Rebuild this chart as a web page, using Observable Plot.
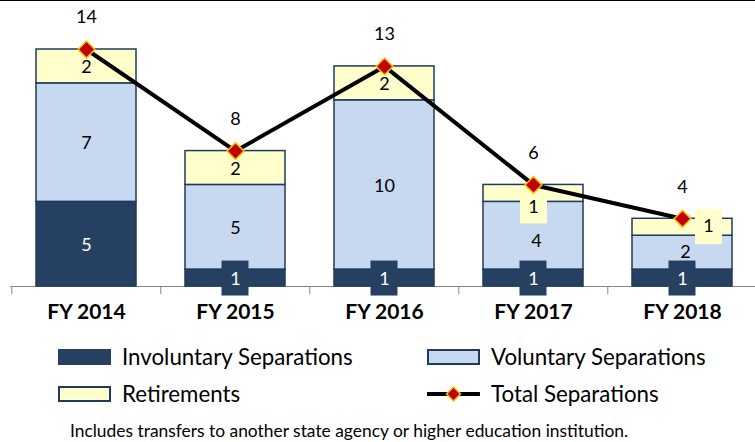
<!DOCTYPE html>
<html>
<head>
<meta charset="utf-8">
<script src="https://cdn.jsdelivr.net/npm/d3@7"></script>
<script src="https://cdn.jsdelivr.net/npm/@observablehq/plot@0.6"></script>
<style>
  html, body { margin: 0; padding: 0; background: #fff; }
  #wrap { position: relative; width: 755px; height: 442px; overflow: hidden; font-family: Lato, "Open Sans", sans-serif; color: #000; }
  #topline { position: absolute; left: 0; top: 0; width: 755px; height: 1px; background: #000; }
  #chart { position: absolute; left: 0; top: 0; }
  #legend { position: absolute; left: 58px; top: 338px; display: grid; grid-template-columns: 369px 300px; grid-auto-rows: 37px; font-size: 22.3px; }
  .item { display: flex; align-items: center; white-space: nowrap; }
  .sw { display: inline-block; width: 53px; height: 16px; box-sizing: border-box; margin-right: 11px; flex: none; }
  .sw svg { display: block; }
  #caption { position: absolute; left: 70px; top: 420px; font-size: 17.4px; line-height: 22px; white-space: nowrap; }
</style>
</head>
<body>
<div id="wrap">
  <div id="chart"></div>
  <div id="topline"></div>
  <div id="legend"></div>
  <div id="caption"></div>
</div>
<script>
// ---- data ----
const categories = ["FY 2014", "FY 2015", "FY 2016", "FY 2017", "FY 2018"];
const involuntary = [5, 1, 1, 1, 1];
const voluntary = [7, 5, 10, 4, 2];
const retirements = [2, 2, 2, 1, 1];
const totals = [14, 8, 13, 6, 4];
const seriesNames = ["Involuntary Separations", "Voluntary Separations", "Retirements"];
const totalName = "Total Separations";
const captionText = "Includes transfers to another state agency or higher education institution.";

// ---- styles ----
const dark = "#264061";
const colors = ["#264061", "#C6D9F1", "#FFFFCC"];
const edge = "#1F3A5C";
const axisGray = "#868686";
const font = "Lato, 'Open Sans', sans-serif";

// ---- derived rows ----
const seriesValues = [involuntary, voluntary, retirements];
const rows = [];
categories.forEach((c, i) => {
  let base = 0;
  seriesNames.forEach((s, k) => {
    const v = seriesValues[k][i];
    rows.push({fy: c, series: s, value: v, mid: base + v / 2});
    base += v;
  });
});
const totalRows = categories.map((c, i) => ({fy: c, total: totals[i]}));

const H = 338;
const baseY = 286;
const xRange = [10, 757];
const step = (xRange[1] - xRange[0]) / categories.length;

const isInv = d => d.series === seriesNames[0];
const key = d => d.series + "|" + d.fy;
const nudges = {
  [seriesNames[2] + "|FY 2017"]: {dx: 0, dy: 14, box: true, h: 31},
  [seriesNames[2] + "|FY 2018"]: {dx: 26, dy: -1, box: true, h: 35},
  [seriesNames[1] + "|FY 2017"]: {dx: 3, dy: 6},
  [seriesNames[1] + "|FY 2018"]: {dx: 3, dy: 0}
};

const marks = [
  Plot.ruleY([0], {stroke: axisGray, strokeWidth: 1}),
  Plot.ruleX(categories, {x: d => d, y1: 0, y2: 0, dx: -step / 2, insetBottom: -8, stroke: axisGray, strokeWidth: 1}),
  Plot.barY(rows, {x: "fy", y: "value", fill: "series", stroke: edge, strokeWidth: 1.5}),
  // dark label boxes for involuntary values
  Plot.tickY(rows.filter(isInv), {x: "fy", y: "mid", stroke: dark, strokeWidth: 35, insetLeft: 36.5, insetRight: 36.5})
];
// yellow label boxes
for (const [k, n] of Object.entries(nudges)) {
  if (!n.box) continue;
  marks.push(Plot.tickY(rows.filter(d => key(d) === k), {x: "fy", y: "mid", dx: n.dx + 0.5, dy: n.dy + 0.5, stroke: colors[2], strokeWidth: n.h, insetLeft: 36.5, insetRight: 36.5}));
}
marks.push(
  Plot.line(totalRows, {x: "fy", y: "total", stroke: "#000", strokeWidth: 4, strokeLinejoin: "round"}),
  Plot.dot(totalRows, {x: "fy", y: "total", symbol: "diamond2", r: 7.6, fill: "#C00000", stroke: "#FFC000", strokeWidth: 1.5}),
  Plot.text(totalRows, {x: "fy", y: "total", text: d => String(d.total), dy: -32, fontSize: 18, fill: "#000", fontFamily: font}),
  // default segment labels
  Plot.text(rows.filter(d => !nudges[key(d)]), {x: "fy", y: "mid", text: d => String(d.value), dy: 1, fontSize: 18, fontFamily: font, fill: d => isInv(d) ? "#fff" : "#000"})
);
for (const [k, n] of Object.entries(nudges)) {
  marks.push(Plot.text(rows.filter(d => key(d) === k), {x: "fy", y: "mid", text: d => String(d.value), dx: n.dx, dy: n.dy, fontSize: 18, fontFamily: font, fill: "#000"}));
}
marks.push(
  Plot.text(categories, {x: d => d, text: d => d, frameAnchor: "bottom", dy: 32, fontSize: 21, fontWeight: "bold", fontFamily: font, fill: "#000"})
);

const chart = Plot.plot({
  width: 755,
  height: H,
  marginTop: 49,
  marginBottom: H - baseY,
  marginLeft: 10,
  marginRight: 0,
  x: {domain: categories, range: xRange, paddingInner: 0.33, paddingOuter: 0.165, axis: null},
  y: {domain: [0, 14], axis: null},
  color: {domain: seriesNames, range: colors},
  style: {fontFamily: font, background: "transparent", overflow: "visible"},
  marks
});
document.getElementById("chart").appendChild(chart);

// ---- legend ----
const legend = document.getElementById("legend");
const legendOrder = [
  {name: seriesNames[0], type: "box", fill: colors[0], border: colors[0]},
  {name: seriesNames[1], type: "box", fill: colors[1], border: edge},
  {name: seriesNames[2], type: "box", fill: colors[2], border: edge},
  {name: totalName, type: "line"}
];
for (const it of legendOrder) {
  const item = document.createElement("div");
  item.className = "item";
  const sw = document.createElement("span");
  sw.className = "sw";
  if (it.type === "box") {
    sw.style.background = it.fill;
    sw.style.border = "2px solid " + it.border;
  } else {
    sw.innerHTML = '<svg width="53" height="16" viewBox="0 0 53 16"><line x1="1" y1="8" x2="52" y2="8" stroke="#000" stroke-width="4" stroke-linecap="round"/><path d="M26.5 1 L33.5 8 L26.5 15 L19.5 8 Z" fill="#C00000" stroke="#FFC000" stroke-width="1.5"/></svg>';
  }
  const label = document.createElement("span");
  label.textContent = it.name;
  item.appendChild(sw);
  item.appendChild(label);
  legend.appendChild(item);
}
document.getElementById("caption").textContent = captionText;
</script>
</body>
</html>
